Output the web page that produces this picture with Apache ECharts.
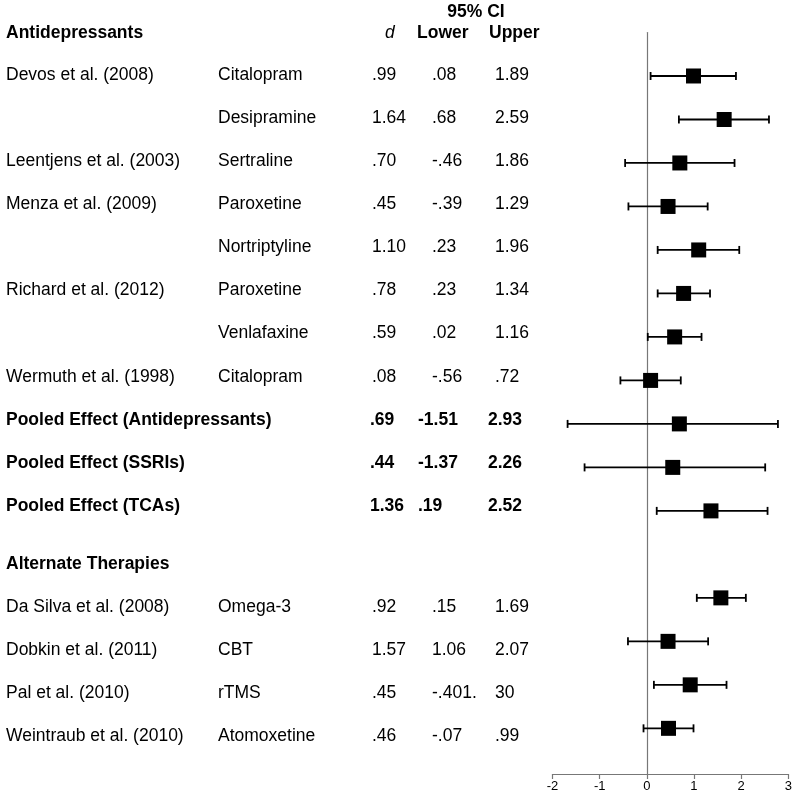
<!DOCTYPE html>
<html>
<head>
<meta charset="utf-8">
<script src="https://cdn.jsdelivr.net/npm/echarts@6/dist/echarts.min.js"></script>
<style>
  html, body { margin: 0; background: #fff; }
  #main { width: 797px; height: 800px; }
</style>
</head>
<body>
<div id="main"></div>
<script>
// table columns
const studies = ['Devos et al. (2008)', '', 'Leentjens et al. (2003)', 'Menza et al. (2009)', '',
  'Richard et al. (2012)', '', 'Wermuth et al. (1998)', 'Pooled Effect (Antidepressants)',
  'Pooled Effect (SSRIs)', 'Pooled Effect (TCAs)', 'Da Silva et al. (2008)', 'Dobkin et al. (2011)',
  'Pal et al. (2010)', 'Weintraub et al. (2010)'];
const drugs = ['Citalopram', 'Desipramine', 'Sertraline', 'Paroxetine', 'Nortriptyline', 'Paroxetine',
  'Venlafaxine', 'Citalopram', '', '', '', 'Omega-3', 'CBT', 'rTMS', 'Atomoxetine'];
const dText = ['.99', '1.64', '.70', '.45', '1.10', '.78', '.59', '.08', '.69', '.44', '1.36',
  '.92', '1.57', '.45', '.46'];
const lowerText = ['.08', '.68', '-.46', '-.39', '.23', '.23', '.02', '-.56', '-1.51', '-1.37', '.19',
  '.15', '1.06', '-.401.', '-.07'];
const upperText = ['1.89', '2.59', '1.86', '1.29', '1.96', '1.34', '1.16', '.72', '2.93', '2.26', '2.52',
  '1.69', '2.07', '30', '.99'];
const pooled = [false, false, false, false, false, false, false, false, true, true, true,
  false, false, false, false];

// plotted effects (as drawn in the figure)
const est = [0.99, 1.64, 0.70, 0.45, 1.10, 0.78, 0.59, 0.08, 0.69, 0.55, 1.36, 1.57, 0.45, 0.92, 0.46];
const lo = [0.08, 0.68, -0.46, -0.39, 0.23, 0.23, 0.02, -0.56, -1.68, -1.32, 0.21, 1.06, -0.40, 0.15, -0.07];
const hi = [1.89, 2.59, 1.86, 1.29, 1.96, 1.34, 1.16, 0.72, 2.78, 2.51, 2.56, 2.10, 1.30, 1.69, 0.99];
const xTicks = [-2, -1, 0, 1, 2, 3];

const chart = echarts.init(document.getElementById('main'));

// alternate therapies sit one row lower (blank row after the pooled effects)
const rowOf = (i) => (i < 11 ? i : i + 1);

const font = 'Liberation Sans, Arial, sans-serif';
const fs = 17.5;

function txt(x, y, s, opt) {
  opt = opt || {};
  return {
    type: 'text', x: x, y: y, silent: true,
    style: {
      text: s, fill: '#000', font: (opt.style || '') + ' ' + (opt.weight || 'normal') + ' ' + fs + 'px ' + font,
      textAlign: opt.align || 'left', textVerticalAlign: 'middle'
    }
  };
}

const graphics = [];
graphics.push(txt(6, 33, 'Antidepressants', { weight: 'bold' }));
graphics.push(txt(476, 12, '95% CI', { weight: 'bold', align: 'center' }));
graphics.push(txt(385, 33, 'd', { style: 'italic' }));
graphics.push(txt(417, 33, 'Lower', { weight: 'bold' }));
graphics.push(txt(489, 33, 'Upper', { weight: 'bold' }));
graphics.push(txt(6, 564, 'Alternate Therapies', { weight: 'bold' }));

studies.forEach((s, i) => {
  const y = i < 11 ? 75 + 43.1 * i : 607 + 43 * (i - 11);
  const w = pooled[i] ? 'bold' : 'normal';
  if (s) graphics.push(txt(6, y, s, { weight: w }));
  if (drugs[i]) graphics.push(txt(218, y, drugs[i]));
  const cx = pooled[i] ? [370, 418, 488] : [372, 432, 495];
  graphics.push(txt(cx[0], y, dText[i], { weight: w }));
  graphics.push(txt(cx[1], y, lowerText[i], { weight: w }));
  graphics.push(txt(cx[2], y, upperText[i], { weight: w }));
});

const option = {
  animation: false,
  backgroundColor: '#fff',
  grid: { left: 552.5, right: 8.7, top: 32.5, bottom: 26 },
  xAxis: {
    type: 'value', min: xTicks[0], max: xTicks[xTicks.length - 1], interval: 1,
    axisLine: { onZero: false, lineStyle: { color: '#777', width: 1.2 } },
    axisTick: { show: true, length: 5, lineStyle: { color: '#777', width: 1.2 } },
    axisLabel: { color: '#000', fontSize: 13, fontFamily: font, margin: 6 },
    splitLine: { show: false }
  },
  yAxis: {
    type: 'value', inverse: true, min: -1, max: 16.05,
    axisLine: { show: true, onZero: true, lineStyle: { color: '#777', width: 1.2 } },
    axisTick: { show: false }, axisLabel: { show: false }, splitLine: { show: false }
  },
  graphic: graphics,
  series: [
    {
      type: 'custom',
      data: est.map((v, i) => [lo[i], hi[i], rowOf(i)]),
      encode: { x: [0, 1], y: 2 },
      renderItem: function (params, api) {
        const a = api.coord([api.value(0), api.value(2)]);
        const b = api.coord([api.value(1), api.value(2)]);
        const st = { stroke: '#000', lineWidth: 1.8 };
        return {
          type: 'group',
          children: [
            { type: 'line', shape: { x1: a[0], y1: a[1], x2: b[0], y2: b[1] }, style: st },
            { type: 'line', shape: { x1: a[0], y1: a[1] - 4, x2: a[0], y2: a[1] + 4 }, style: st },
            { type: 'line', shape: { x1: b[0], y1: b[1] - 4, x2: b[0], y2: b[1] + 4 }, style: st }
          ]
        };
      },
      z: 2
    },
    {
      type: 'scatter',
      data: est.map((v, i) => [v, rowOf(i)]),
      symbol: 'rect',
      symbolSize: 15,
      itemStyle: { color: '#000', opacity: 1 },
      z: 3
    }
  ]
};

chart.setOption(option);
</script>
</body>
</html>
